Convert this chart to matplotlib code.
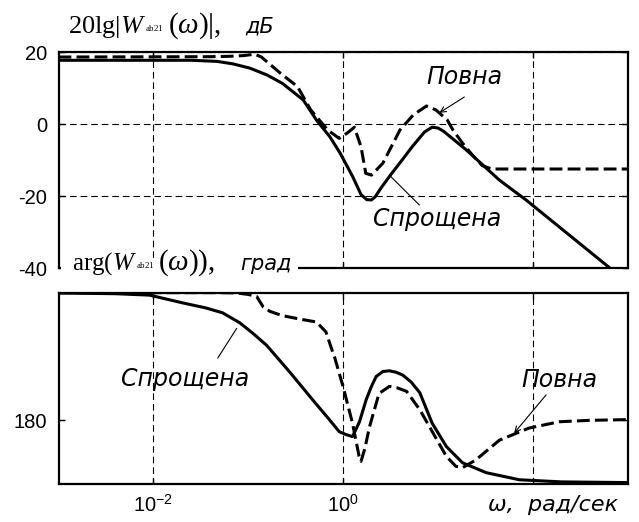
import numpy as np
import matplotlib
matplotlib.use("Agg")
from matplotlib import pyplot as plt
from matplotlib import patches

# frequency is kept as log10(omega), omega in rad/s
# amplitude response, dB
lg_mag_simple = [-3.00, -1.60, -1.33, -1.16, -0.98, -0.80, -0.64, -0.42, -0.28, -0.14,
                 -0.03, 0.10, 0.19, 0.25, 0.30, 0.34, 0.40, 0.50, 0.60, 0.73,
                 0.86, 0.94, 1.00, 1.06, 1.30, 1.65, 1.93, 2.80, 3.00]
mag_simple = [17.7, 17.7, 17.4, 16.7, 15.5, 13.6, 11.3, 6.7, 1.1, -3.5,
              -8.1, -14.5, -19.6, -21.0, -21.1, -20.2, -17.8, -14.2, -10.8, -6.3,
              -2.2, -0.9, -1.1, -2.0, -7.2, -15.6, -21.1, -39.7, -44.0]

lg_mag_full = [-3.00, -1.40, -1.20, -1.05, -0.93, -0.86, -0.78, -0.66, -0.48, -0.34,
               -0.16, -0.04, 0.05, 0.12, 0.19, 0.24, 0.30, 0.42, 0.60, 0.74,
               0.88, 0.98, 1.10, 1.16, 1.26, 1.36, 1.47, 1.57, 3.00]
mag_full = [18.6, 18.7, 18.8, 19.0, 19.4, 18.6, 16.8, 14.1, 10.4, 3.9,
            -1.7, -4.0, -2.4, -0.9, -6.3, -13.7, -14.2, -10.9, -1.7, 2.5,
            5.0, 3.9, 1.1, -1.7, -5.3, -8.5, -11.6, -12.5, -12.5]

# phase response, degrees
lg_ph_simple = [-3.00, -2.40, -2.04, -1.69, -1.45, -1.27, -1.09, -0.95, -0.805, -0.56,
                -0.32, -0.15, -0.04, 0.03, 0.10, 0.174, 0.244, 0.30, 0.35, 0.42,
                0.49, 0.56, 0.63, 0.72, 0.81, 0.94, 1.09, 1.26, 1.51, 1.86,
                2.30, 3.00]
ph_simple = [360, 359, 357, 346, 339, 332, 318, 303, 286, 248,
             209, 182, 164, 160, 157, 178, 209, 228, 242, 249,
             250, 248, 244, 234, 219, 176, 143, 120, 106, 96,
             93, 92]

lg_ph_full = [-3.00, -1.30, -1.12, -1.00, -0.91, -0.84, -0.77, -0.64, -0.45, -0.28,
              -0.18, -0.11, -0.09, 0.00, 0.10, 0.17, 0.19, 0.23, 0.28, 0.38,
              0.49, 0.57, 0.67, 0.81, 0.95, 1.09, 1.19, 1.26, 1.40, 1.65,
              1.96, 2.28, 2.60, 3.00]
ph_full = [360.5, 360.5, 360, 358, 355, 340, 334, 328, 323, 319,
           305, 277, 270, 228, 176, 129, 122, 140, 171, 218,
           228, 226, 221, 195, 162, 129, 115, 113, 124, 152,
           169, 178, 180, 181]

x_ticks = [1e-2, 1e0, 1e2]
x_ticklabels = [r"$\mathsf{10^{-2}}$", r"$\mathsf{10^{0}}$", ""]
mag_ticks = [-40, -20, 0, 20]
ph_ticks = [180]

plt.rcParams["font.family"] = ["Liberation Sans", "DejaVu Sans"]
plt.rcParams["axes.unicode_minus"] = False
plt.rcParams["mathtext.fontset"] = "custom"
plt.rcParams["mathtext.rm"] = "Liberation Serif"
plt.rcParams["mathtext.it"] = "Liberation Serif:italic"
plt.rcParams["mathtext.sf"] = "Liberation Sans"

W, H = 639, 522
fig = plt.figure(figsize=(W / 100, H / 100), dpi=100)


def px(x, y):
    # pixel position -> figure fraction
    return x / W, 1 - y / H


grid_ls = (0, (6, 3.5))
dash_ls = (0, (4.2, 1.7))
note_font = dict(family="DejaVu Sans", style="italic", fontsize=17)
arrow = dict(arrowstyle="->", lw=0.8, color="k", shrinkA=0, shrinkB=0)

ax1 = fig.add_axes([58.5 / W, 1 - 268 / H, 569 / W, 216 / H])
ax2 = fig.add_axes([58.5 / W, 1 - 484 / H, 569 / W, 191 / H])

for ax in (ax1, ax2):
    ax.set_xscale("log")
    ax.set_xlim(1e-3, 1e3)
    ax.set_xticks(x_ticks)
    ax.minorticks_off()
    for s in ax.spines.values():
        s.set_linewidth(1.6)
    ax.tick_params(direction="in", length=4, width=1, top=True, right=True,
                   labelsize=14.5, pad=8)

# amplitude
ax1.plot(10 ** np.array(lg_mag_simple), mag_simple, color="k", lw=2.2)
ax1.plot(10 ** np.array(lg_mag_full), mag_full, color="k", lw=2.2, linestyle=dash_ls)
ax1.set_ylim(-40, 20)
ax1.set_yticks(mag_ticks)
ax1.set_xticklabels([""] * len(x_ticks))
ax1.grid(True, color="k", lw=0.8, linestyle=grid_ls)

ax1.text(10 ** 1.279, 13.0, "Повна", ha="center", va="center", **note_font)
ax1.annotate("", xy=(10 ** 1.016, 3.1), xytext=(10 ** 1.279, 7.5), arrowprops=arrow)
ax1.text(10 ** 0.995, -26.4, "Спрощена", ha="center", va="center", **note_font)
ax1.annotate("", xy=(10 ** 0.489, -14.2), xytext=(10 ** 0.805, -22.5),
             arrowprops=dict(arrow, arrowstyle="-"))

# phase
ax2.plot(10 ** np.array(lg_ph_simple), ph_simple, color="k", lw=2.2)
ax2.plot(10 ** np.array(lg_ph_full), ph_full, color="k", lw=2.2, linestyle=dash_ls)
ax2.set_ylim(90, 360)
ax2.set_yticks(ph_ticks)
ax2.set_xticklabels(x_ticklabels)
ax2.tick_params(axis="x", pad=7)
ax2.grid(True, axis="x", color="k", lw=0.8, linestyle=grid_ls)

ax2.text(10 ** -1.668, 238, "Спрощена", ha="center", va="center", **note_font)
ax2.annotate("", xy=(10 ** -1.121, 310), xytext=(10 ** -1.321, 268),
             arrowprops=dict(arrow, arrowstyle="-"))
ax2.text(10 ** 2.279, 237, "Повна", ha="center", va="center", **note_font)
ax2.annotate("", xy=(10 ** 1.805, 162), xytext=(10 ** 2.142, 216), arrowprops=arrow)

# axis captions
fig.text(*px(68, 33), r"$\mathrm{20lg}|W$", fontsize=19, va="baseline")
fig.text(*px(145, 31), r"$\mathrm{ab21}$", fontsize=6.5, va="baseline")
fig.text(*px(168, 33), r"$(\omega)|,$", fontsize=21, va="baseline")
fig.text(*px(245, 33), "дБ", family="DejaVu Sans", style="italic", fontsize=15, va="baseline")

# white strip under the phase caption hides part of the upper frame
fig.add_artist(patches.Rectangle(px(61, 277), (298 - 61) / W, 17 / H,
                                 transform=fig.transFigure, facecolor="white",
                                 edgecolor="none", zorder=1))
fig.text(*px(72, 270), r"$\mathrm{arg}(W$", fontsize=18, va="baseline")
fig.text(*px(136, 268), r"$\mathrm{ab21}$", fontsize=6.5, va="baseline")
fig.text(*px(158, 270), r"$(\omega)),$", fontsize=21, va="baseline")
fig.text(*px(240, 270), "град", family="DejaVu Sans", style="italic", fontsize=15, va="baseline")

fig.text(*px(553, 505), "ω,  рад/сек", family="DejaVu Sans", style="italic",
         fontsize=16, ha="center", va="center")

fig.savefig("out.png", dpi=100)
